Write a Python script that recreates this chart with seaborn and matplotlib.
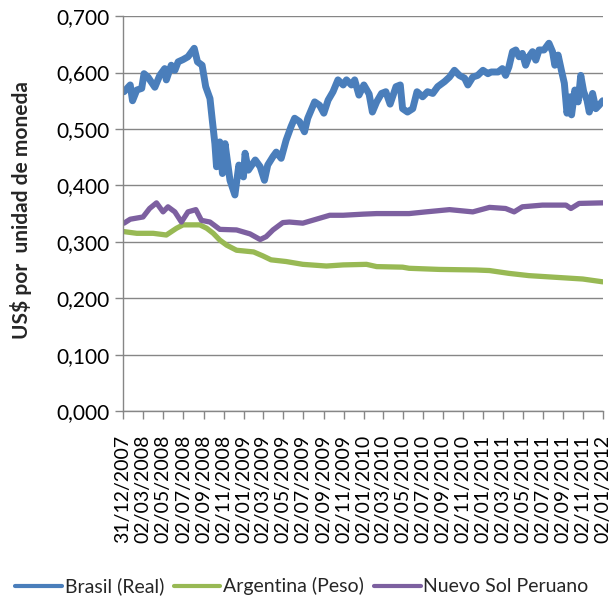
import matplotlib
matplotlib.use("Agg")
import matplotlib.pyplot as plt
import seaborn as sns
import pandas as pd

# Brasil (Real), US$ per unit
brasil_dates = [
	"2008-01-03", "2008-01-22", "2008-01-29", "2008-02-11", "2008-02-26", "2008-03-04",
	"2008-03-16", "2008-04-06", "2008-04-21", "2008-05-06", "2008-05-11", "2008-05-26",
	"2008-06-06", "2008-06-16", "2008-07-01", "2008-07-16", "2008-08-04", "2008-08-14",
	"2008-08-28", "2008-09-08", "2008-09-21", "2008-09-28", "2008-10-06", "2008-10-11",
	"2008-10-21", "2008-10-29", "2008-11-06", "2008-11-21", "2008-12-06", "2008-12-18",
	"2009-01-01", "2009-01-06", "2009-01-16", "2009-02-06", "2009-02-21", "2009-03-06",
	"2009-03-16", "2009-04-01", "2009-04-11", "2009-04-26", "2009-05-11", "2009-05-26",
	"2009-06-06", "2009-06-21", "2009-07-06", "2009-07-16", "2009-08-06", "2009-08-21",
	"2009-09-03", "2009-09-16", "2009-10-01", "2009-10-16", "2009-11-01", "2009-11-11",
	"2009-11-26", "2009-12-06", "2009-12-19", "2010-01-03", "2010-01-19", "2010-01-29",
	"2010-02-11", "2010-02-26", "2010-03-11", "2010-03-24", "2010-04-11", "2010-04-24",
	"2010-05-01", "2010-05-16", "2010-06-01", "2010-06-14", "2010-07-01", "2010-07-16",
	"2010-08-01", "2010-08-16", "2010-09-06", "2010-09-21", "2010-10-06", "2010-10-21",
	"2010-11-06", "2010-11-16", "2010-12-01", "2010-12-16", "2011-01-01", "2011-01-16",
	"2011-01-26", "2011-02-16", "2011-03-01", "2011-03-11", "2011-03-21", "2011-04-01",
	"2011-04-11", "2011-04-21", "2011-05-01", "2011-05-11", "2011-05-21", "2011-06-01",
	"2011-06-11", "2011-06-21", "2011-07-06", "2011-07-21", "2011-08-01", "2011-08-08",
	"2011-08-18", "2011-08-28", "2011-09-06", "2011-09-14", "2011-09-24", "2011-09-28",
	"2011-10-08", "2011-10-18", "2011-10-26", "2011-11-04", "2011-11-14", "2011-11-21",
	"2011-12-01", "2011-12-11", "2011-12-21", "2012-01-01",
]
brasil_values = [
	0.566, 0.578, 0.550, 0.569, 0.572, 0.598,
	0.592, 0.574, 0.595, 0.607, 0.587, 0.613,
	0.604, 0.619, 0.623, 0.628, 0.643, 0.619,
	0.613, 0.575, 0.554, 0.516, 0.474, 0.433,
	0.477, 0.421, 0.474, 0.409, 0.383, 0.436,
	0.415, 0.457, 0.427, 0.445, 0.433, 0.409,
	0.436, 0.451, 0.459, 0.448, 0.480, 0.504,
	0.519, 0.513, 0.495, 0.519, 0.548, 0.542,
	0.528, 0.551, 0.566, 0.587, 0.578, 0.587,
	0.578, 0.587, 0.560, 0.578, 0.562, 0.530,
	0.548, 0.563, 0.566, 0.544, 0.575, 0.578,
	0.536, 0.530, 0.536, 0.566, 0.557, 0.566,
	0.563, 0.575, 0.584, 0.592, 0.604, 0.595,
	0.590, 0.578, 0.592, 0.595, 0.604, 0.598,
	0.601, 0.601, 0.607, 0.595, 0.610, 0.637,
	0.640, 0.628, 0.634, 0.613, 0.628, 0.637,
	0.622, 0.640, 0.640, 0.652, 0.637, 0.613,
	0.631, 0.604, 0.581, 0.528, 0.557, 0.525,
	0.569, 0.548, 0.595, 0.566, 0.551, 0.530,
	0.563, 0.536, 0.542, 0.550,
]

# Argentina (Peso)
argentina_dates = [
	"2008-01-03", "2008-02-11", "2008-04-01", "2008-05-11", "2008-06-11", "2008-07-01",
	"2008-08-21", "2008-09-11", "2008-10-01", "2008-10-21", "2008-11-11", "2008-12-11",
	"2009-02-01", "2009-03-01", "2009-03-26", "2009-05-11", "2009-07-01", "2009-09-11",
	"2009-11-01", "2010-01-11", "2010-02-11", "2010-05-01", "2010-05-21", "2010-08-21",
	"2010-12-11", "2011-01-21", "2011-03-21", "2011-05-21", "2011-08-11", "2011-11-01",
	"2012-01-01",
]
argentina_values = [
	0.318, 0.315, 0.315, 0.312, 0.324, 0.330,
	0.330, 0.324, 0.315, 0.303, 0.294, 0.285,
	0.282, 0.275, 0.268, 0.265, 0.260, 0.257,
	0.259, 0.260, 0.256, 0.255, 0.253, 0.251,
	0.250, 0.249, 0.244, 0.240, 0.237, 0.234,
	0.229,
]

# Nuevo Sol Peruano
peru_dates = [
	"2008-01-03", "2008-01-22", "2008-03-01", "2008-03-21", "2008-04-11", "2008-05-01",
	"2008-05-16", "2008-06-06", "2008-06-26", "2008-07-16", "2008-08-09", "2008-08-26",
	"2008-09-21", "2008-10-21", "2008-12-11", "2009-01-21", "2009-02-21", "2009-03-11",
	"2009-04-01", "2009-05-01", "2009-05-21", "2009-07-01", "2009-08-11", "2009-09-21",
	"2009-11-01", "2010-01-01", "2010-02-11", "2010-05-21", "2010-07-11", "2010-09-21",
	"2010-12-01", "2011-01-21", "2011-03-11", "2011-04-06", "2011-05-01", "2011-07-01",
	"2011-09-11", "2011-09-26", "2011-10-21", "2012-01-01",
]
peru_values = [
	0.333, 0.340, 0.344, 0.359, 0.369, 0.353,
	0.362, 0.353, 0.335, 0.353, 0.357, 0.338,
	0.335, 0.322, 0.321, 0.314, 0.304, 0.309,
	0.321, 0.334, 0.335, 0.333, 0.340, 0.347,
	0.347, 0.349, 0.350, 0.350, 0.353, 0.357,
	0.353, 0.361, 0.359, 0.353, 0.362, 0.365,
	0.365, 0.359, 0.368, 0.369,
]

series_names = ["Brasil (Real)", "Argentina (Peso)", "Nuevo Sol Peruano"]
colors = ["#4A7EBB", "#98B954", "#7D60A0"]

tick_labels = [
	"31/12/2007", "02/03/2008", "02/05/2008", "02/07/2008", "02/09/2008", "02/11/2008",
	"02/01/2009", "02/03/2009", "02/05/2009", "02/07/2009", "02/09/2009", "02/11/2009",
	"02/01/2010", "02/03/2010", "02/05/2010", "02/07/2010", "02/09/2010", "02/11/2010",
	"02/01/2011", "02/03/2011", "02/05/2011", "02/07/2011", "02/09/2011", "02/11/2011",
	"02/01/2012",
]
y_ticks = [0.0, 0.1, 0.2, 0.3, 0.4, 0.5, 0.6, 0.7]

frames = []
for name, d, v in [(series_names[0], brasil_dates, brasil_values),
				   (series_names[1], argentina_dates, argentina_values),
				   (series_names[2], peru_dates, peru_values)]:
	frames.append(pd.DataFrame({"fecha": pd.to_datetime(d), "valor": v, "serie": name}))
df = pd.concat(frames, ignore_index=True)

sns.set_theme(style="white")
plt.rcParams["font.family"] = ["Lato", "DejaVu Sans"]
grey = "#868686"

fig, ax = plt.subplots(figsize=(6.16, 5.98), dpi=100)
fig.subplots_adjust(left=0.1997, right=0.979, top=0.973, bottom=0.3127)

sns.lineplot(data=df, x="fecha", y="valor", hue="serie", hue_order=series_names,
			 palette=colors, size="serie", size_order=series_names,
			 sizes={series_names[0]: 5, series_names[1]: 3.8, series_names[2]: 3.8},
			 ax=ax, legend=False)

ax.set_ylim(0, 0.7)
ax.set_yticks(y_ticks)
ax.set_yticklabels([f"{t:.3f}".replace(".", ",") for t in y_ticks], fontsize=15)
ax.grid(axis="y", color=grey, linewidth=1)
ax.set_axisbelow(True)

tick_dates = pd.to_datetime(tick_labels, format="%d/%m/%Y")
ax.set_xlim(tick_dates[0], tick_dates[-1])
ax.set_xticks(tick_dates)
ax.set_xticklabels(tick_labels, rotation=90, fontsize=14)

for s in ["top", "right"]:
	ax.spines[s].set_visible(False)
for s in ["left", "bottom"]:
	ax.spines[s].set_color(grey)
	ax.spines[s].set_linewidth(1)
ax.tick_params(axis="both", direction="out", length=6, width=1, color=grey,
			   bottom=True, left=True, labelcolor="black")
ax.tick_params(axis="x", pad=11)
ax.tick_params(axis="y", pad=4)

ax.set_xlabel("")
ax.set_ylabel("US$ por  unidad de moneda", fontsize=15, fontweight="bold")
ax.yaxis.set_label_coords(-0.19, 0.51)

handles = [plt.Line2D([], [], color=c, linewidth=3) for c in colors]
fig.legend(handles, series_names, loc="lower center", bbox_to_anchor=(0.49, -0.025),
		   ncol=3, frameon=False, fontsize=14, handlelength=2.4, handletextpad=0.15,
		   columnspacing=0.5)

fig.savefig("out.png", dpi=100)
